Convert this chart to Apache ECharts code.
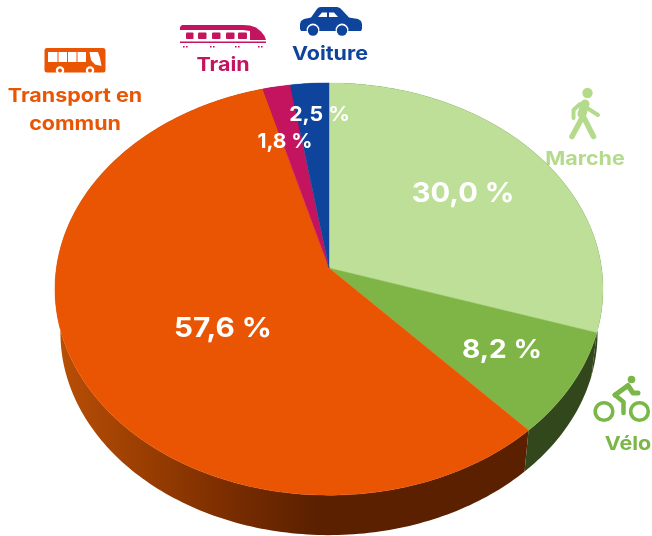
<!DOCTYPE html>
<html>
<head>
<meta charset="utf-8">
<style>
html, body { margin: 0; padding: 0; background: #fff; }
#chart { width: 652px; height: 536px; }
</style>
<script src="https://cdn.jsdelivr.net/npm/echarts@6/dist/echarts.min.js"></script>
</head>
<body>
<div id="chart"></div>
<script>
// parts modales, sens horaire depuis le haut
const modes = ['Marche', 'Vélo', 'Transport en commun', 'Train', 'Voiture'];
const shares = [30.0, 8.2, 57.6, 1.8, 2.5];
const topColors = ['#bddf98', '#7fb547', '#ea5503', '#c4135f', '#0f449c'];
const labelColors = ['#b4db8b', '#7ab648', '#ea5503', '#c4135f', '#0f449c'];

// centre des pourcentages : x, y, taille, etirement
const shareLabelPos = [[463, 193.5, 27, 1.08], [502, 350.5, 26, 1.08], [223, 328.5, 27, 1.1], [285, 142, 20.5, 1.02], [319.5, 115, 20.5, 1.04]];

// projection du disque : apex, rayons, perspective, epaisseur
const cx = 329, cy = 268, rx = 272.6, ry = 204, persp = 0.102;
const wallScale = 0.98, wallDrop = 44.5;
const total = shares.reduce((a, b) => a + b, 0);

function project(deg, r) {
    const t = deg * Math.PI / 180;
    const u = Math.sin(t) * r, v = Math.cos(t) * r;
    const d = 1 + persp * v;
    return [rx * u / d, -ry * v / d];
}
function arc(a0, a1) {
    const pts = [];
    const n = Math.max(2, Math.ceil(a1 - a0));
    for (let i = 0; i <= n; i++) {
        pts.push(project(a0 + (a1 - a0) * i / n, 1));
    }
    return pts;
}
function range(i) {
    let before = 0;
    for (let k = 0; k < i; k++) before += shares[k];
    return [before / total * 360, (before + shares[i]) / total * 360];
}

const wallFill = {
    type: 'linear', x: 60, y: 0, x2: 320, y2: 0, global: true,
    colorStops: [
        { offset: 0, color: '#b84e06' },
        { offset: 0.3, color: '#9c3f02' },
        { offset: 0.65, color: '#7a2d00' },
        { offset: 1, color: '#5a2000' }
    ]
};
const wallColors = ['#33471c', '#33471c', wallFill, '#6b0c35', '#08244f'];

function renderWall(params, api) {
    const i = params.dataIndex;
    const r = range(i);
    const top = arc(r[0], r[1]).map(p => [cx + p[0], cy + p[1]]);
    const low = arc(r[0], r[1]).map(p => [cx + p[0] * wallScale, cy + p[1] * wallScale + wallDrop]).reverse();
    return {
        type: 'polygon',
        shape: { points: top.concat(low) },
        style: { fill: wallColors[i] }
    };
}

function stretchedText(text, x, y, color, size, stretch) {
    return {
        type: 'text',
        x: x, y: y, scaleX: stretch,
        z2: 10,
        style: {
            x: 0, y: 0, text: text, fill: color,
            font: '700 ' + size + 'px Inter, sans-serif',
            align: 'center', verticalAlign: 'middle'
        }
    };
}

function renderTop(params, api) {
    const i = params.dataIndex;
    const r = range(i);
    const pts = [[cx, cy]].concat(arc(r[0], r[1]).map(p => [cx + p[0], cy + p[1]]));
    const pos = shareLabelPos[i];
    const label = api.value(0).toFixed(1).replace('.', ',') + ' %';
    return {
        type: 'group',
        children: [
            {
                type: 'polygon',
                shape: { points: pts },
                style: { fill: topColors[i], stroke: topColors[i], lineWidth: 0.4 }
            },
            stretchedText(label, pos[0], pos[1], '#fff', pos[2], pos[3])
        ]
    };
}

function box(x, y, w, h, fill, r) {
    return { type: 'rect', shape: { x: x, y: y, width: w, height: h, r: r || 0 }, style: { fill: fill } };
}
function dot(x, y, r, fill) {
    return { type: 'circle', shape: { cx: x, cy: y, r: r }, style: { fill: fill } };
}
function poly(points, fill) {
    return { type: 'polygon', shape: { points: points }, style: { fill: fill } };
}
function line(points, color, width) {
    return {
        type: 'polyline',
        shape: { points: points },
        style: { stroke: color, lineWidth: width, fill: null, lineCap: 'round', lineJoin: 'round' }
    };
}

// pictos
function busIcon(c) {
    return [
        box(44.5, 48, 61, 24.5, c, 2.5),
        box(48, 52, 9.5, 10, '#fff'), box(58.5, 52, 8.5, 10, '#fff'),
        box(68, 52, 8.5, 10, '#fff'), box(77.5, 52, 8.5, 10, '#fff'),
        poly([[89.5, 52], [98, 52], [100, 58], [101.5, 66], [95, 64.5], [91, 60]], '#fff'),
        dot(60, 70.5, 4.2, '#fff'), dot(60, 70.5, 2, c),
        dot(90, 70.5, 4.2, '#fff'), dot(90, 70.5, 2, c)
    ];
}
function trainIcon(c) {
    const els = [
        poly([[182, 25], [243, 25], [250, 25.6], [256, 27.6], [261, 31.5], [264.5, 36], [266, 40], [250, 40], [250, 31], [243, 30], [180, 30], [180, 27]], c),
        box(180, 41.5, 86, 1.6, c)
    ];
    [[186, 7.5], [198, 8.5], [212, 8.5], [226, 8.5], [238, 9]].forEach(w => els.push(box(w[0], 32.5, w[1], 6.5, c, 1)));
    [184, 211, 236, 259].forEach(x => {
        els.push(box(x - 1, 46, 1.6, 1.6, c));
        els.push(box(x + 2, 46, 1.6, 1.6, c));
    });
    return els;
}
function carIcon(c) {
    return [
        poly([[300, 24], [301, 21], [304, 19], [311, 17.5], [317, 9], [318.5, 7.6], [321, 7], [337, 7], [340, 8], [342, 10], [349, 17.5], [358, 19], [361, 21], [362, 24], [362, 29], [361, 31], [359, 31], [303, 31], [301, 31], [300, 29]], c),
        poly([[318, 17], [322, 12.5], [327, 12.5], [327, 17]], '#fff'),
        poly([[329, 12.5], [334, 12.5], [338, 17], [329, 17]], '#fff'),
        dot(313, 30, 6.4, '#fff'), dot(313, 30.5, 5.2, c),
        dot(342, 30, 6.4, '#fff'), dot(342, 30.5, 5.2, c)
    ];
}
function walkerIcon(c) {
    return [
        dot(587.5, 93, 5.2, c),
        line([[585, 104], [582, 114]], c, 9),
        line([[583, 116], [572, 136.5]], c, 5.5),
        line([[582, 114], [593.5, 136.5]], c, 5.5),
        line([[587, 108], [598, 115]], c, 4),
        line([[580, 104], [573.5, 110], [573.5, 118]], c, 4)
    ];
}
function bikeIcon(c) {
    return [
        { type: 'circle', shape: { cx: 604, cy: 411.5, r: 8.8 }, style: { fill: null, stroke: c, lineWidth: 3.6 } },
        { type: 'circle', shape: { cx: 639.5, cy: 411.5, r: 8.8 }, style: { fill: null, stroke: c, lineWidth: 3.6 } },
        dot(631.5, 379.5, 3.8, c),
        line([[615, 395], [628, 385.5], [633, 393], [638, 393]], c, 5),
        line([[615, 395], [623.5, 402], [623.5, 413]], c, 4.5)
    ];
}

const chart = echarts.init(document.getElementById('chart'), null, { renderer: 'canvas' });
chart.setOption({
    animation: false,
    backgroundColor: '#fff',
    series: [
        { type: 'custom', coordinateSystem: 'none', data: shares, renderItem: renderWall, z: 1, silent: true },
        { type: 'custom', coordinateSystem: 'none', data: shares, renderItem: renderTop, z: 2, silent: true }
    ],
    graphic: [].concat(
        busIcon(labelColors[2]),
        trainIcon(labelColors[3]),
        carIcon(labelColors[4]),
        walkerIcon(labelColors[0]),
        bikeIcon(labelColors[1]),
        [
            stretchedText('Transport en', 75, 96, labelColors[2], 19, 1.13),
            stretchedText('commun', 75, 124, labelColors[2], 19, 1.13),
            stretchedText(modes[3], 223, 65, labelColors[3], 19, 1.13),
            stretchedText(modes[4], 330, 54, labelColors[4], 19, 1.13),
            stretchedText(modes[0], 585, 159, labelColors[0], 19, 1.13),
            stretchedText(modes[1], 628, 444, labelColors[1], 19, 1.13)
        ]
    )
});
</script>
</body>
</html>
